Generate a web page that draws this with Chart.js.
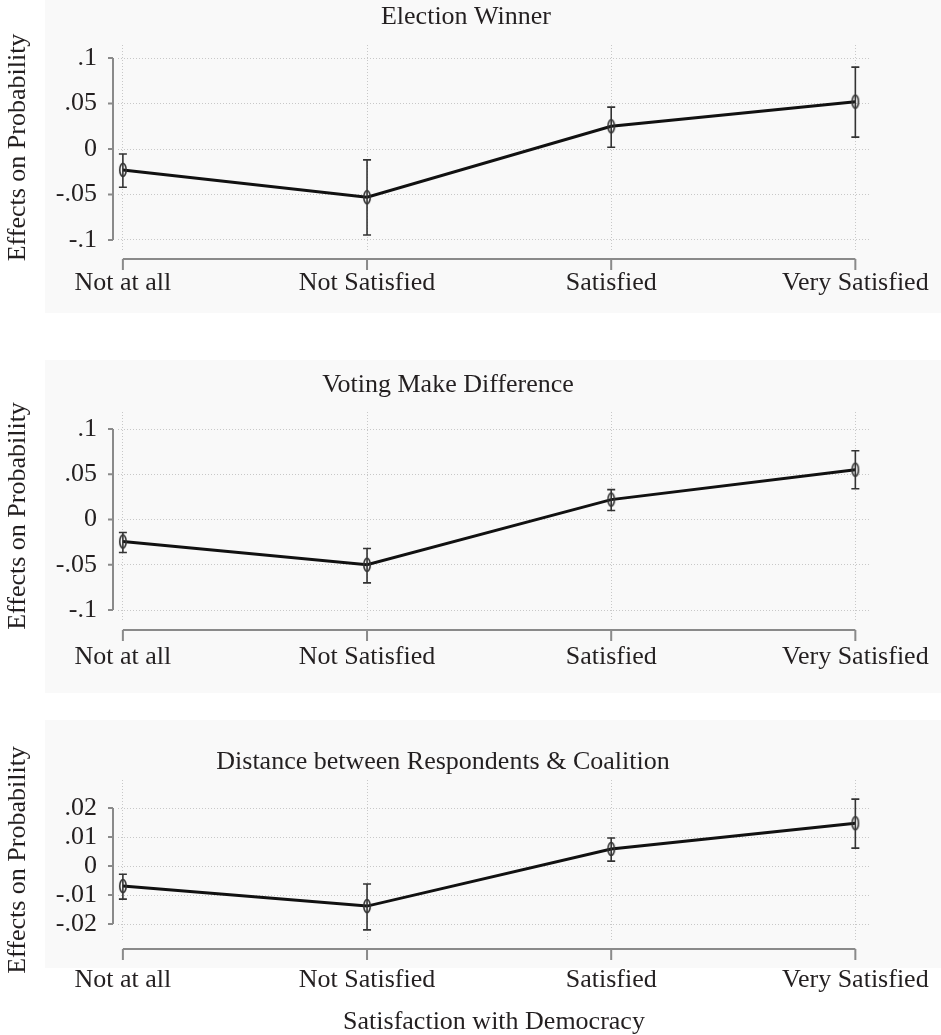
<!DOCTYPE html>
<html>
<head>
<meta charset="utf-8">
<script src="https://cdn.jsdelivr.net/npm/chart.js@4.4.1/dist/chart.umd.min.js"></script>
<style>
  body { margin: 0; background: #fff; }
  #wrap { position: relative; width: 941px; height: 1035px; overflow: hidden; }
  .shade { position: absolute; left: 45px; width: 896px; background: #f9f9f9; }
  canvas { position: absolute; left: 0; }
</style>
</head>
<body>
<div id="wrap">
  <div class="shade" style="top:0;height:313px"></div>
  <div class="shade" style="top:360px;height:333px"></div>
  <div class="shade" style="top:720px;height:248px"></div>
  <canvas id="c1" width="941" height="310" style="top:0"></canvas>
  <canvas id="c2" width="941" height="330" style="top:360px"></canvas>
  <canvas id="c3" width="941" height="315" style="top:720px"></canvas>
</div>
<script>
// satisfaction categories (x axis)
const categories = ["Not at all", "Not Satisfied", "Satisfied", "Very Satisfied"];

// Election Winner
const winnerEst = [-0.023, -0.053, 0.025, 0.052];
const winnerLo = [-0.042, -0.0945, 0.002, 0.013];
const winnerHi = [-0.0055, -0.012, 0.046, 0.090];

// Voting Make Difference
const votingEst = [-0.0243, -0.050, 0.022, 0.055];
const votingLo = [-0.0365, -0.070, 0.010, 0.034];
const votingHi = [-0.0144, -0.032, 0.033, 0.076];

// Distance between Respondents & Coalition
const distEst = [-0.0069, -0.0138, 0.0059, 0.0148];
const distLo = [-0.0114, -0.0220, 0.0017, 0.0062];
const distHi = [-0.0028, -0.0062, 0.0097, 0.0231];

// y tick values and labels
const probTicks = [-0.1, -0.05, 0, 0.05, 0.1];
const probLabels = ["-.1", "-.05", "0", ".05", ".1"];
const distTicks = [-0.02, -0.01, 0, 0.01, 0.02];
const distLabels = ["-.02", "-.01", "0", ".01", ".02"];

const serif = "'Liberation Serif', 'Times New Roman', serif";
const ink = "#231f20";
Chart.defaults.font.family = serif;
Chart.defaults.font.size = 26;
Chart.defaults.color = ink;

// hollow tall "O" marker
const marker = document.createElement("canvas");
marker.width = 10;
marker.height = 16;
const mctx = marker.getContext("2d");
mctx.strokeStyle = "#333";
mctx.lineWidth = 1.6;
mctx.beginPath();
mctx.ellipse(5, 8, 3.2, 6.5, 0, 0, Math.PI * 2);
mctx.stroke();

// confidence interval whiskers
const errorBars = {
  id: "errorBars",
  afterDatasetsDraw(chart, args, opts) {
    const { ctx, scales: { x, y } } = chart;
    ctx.save();
    ctx.strokeStyle = "#333";
    ctx.lineWidth = 1.6;
    opts.lo.forEach((lo, i) => {
      const px = x.getPixelForValue(i);
      const y1 = y.getPixelForValue(lo);
      const y2 = y.getPixelForValue(opts.hi[i]);
      ctx.beginPath();
      ctx.moveTo(px, y1); ctx.lineTo(px, y2);
      ctx.moveTo(px - 4, y1); ctx.lineTo(px + 4, y1);
      ctx.moveTo(px - 4, y2); ctx.lineTo(px + 4, y2);
      ctx.stroke();
    });
    ctx.restore();
  }
};

// Stata-like detached axis lines
const stataAxes = {
  id: "stataAxes",
  afterDraw(chart, args, opts) {
    const { ctx, chartArea, scales: { x, y } } = chart;
    ctx.save();
    ctx.strokeStyle = "#8a8a8a";
    ctx.lineWidth = 2;
    const ax = chartArea.left - 5;
    const yTop = y.getPixelForValue(opts.yTicks[opts.yTicks.length - 1]);
    const yBot = y.getPixelForValue(opts.yTicks[0]);
    ctx.beginPath();
    ctx.moveTo(ax, yTop); ctx.lineTo(ax, yBot);
    opts.yTicks.forEach(v => {
      const py = y.getPixelForValue(v);
      ctx.moveTo(ax - 5, py); ctx.lineTo(ax, py);
    });
    const ay = chartArea.bottom + opts.gap;
    ctx.moveTo(x.getPixelForValue(0), ay);
    ctx.lineTo(x.getPixelForValue(categories.length - 1), ay);
    categories.forEach((c, i) => {
      const px = x.getPixelForValue(i);
      ctx.moveTo(px, ay); ctx.lineTo(px, ay + 11);
    });
    ctx.stroke();
    ctx.restore();
  }
};

// panel heading
const panelTitle = {
  id: "panelTitle",
  afterDraw(chart, args, opts) {
    const ctx = chart.ctx;
    ctx.save();
    ctx.font = "26px " + serif;
    ctx.fillStyle = ink;
    ctx.textAlign = "center";
    ctx.textBaseline = "middle";
    ctx.fillText(opts.text, opts.x, opts.y);
    ctx.restore();
  }
};

function makePanel(id, p) {
  const ctx = document.getElementById(id).getContext("2d");
  return new Chart(ctx, {
    type: "line",
    data: {
      datasets: [{
        data: p.est.map((v, i) => ({ x: i, y: v })),
        borderColor: "#111",
        borderWidth: 3,
        pointStyle: marker,
        pointRadius: 6,
        pointHoverRadius: 6,
        tension: 0,
        fill: false
      }]
    },
    options: {
      responsive: false,
      animation: false,
      events: [],
      layout: { padding: { top: p.top, right: 71, bottom: 0, left: 0 } },
      plugins: {
        legend: { display: false },
        tooltip: { enabled: false },
        errorBars: { lo: p.lo, hi: p.hi },
        stataAxes: { yTicks: p.ticks, gap: p.gap },
        panelTitle: { text: p.title, x: p.titleX, y: p.titleY }
      },
      scales: {
        x: {
          type: "linear",
          min: -0.02,
          max: 3.06,
          afterBuildTicks: s => { s.ticks = categories.map((c, i) => ({ value: i })); },
          afterFit: s => { s.height = p.xh; s.paddingLeft = 0; s.paddingRight = 0; },
          border: { display: false, dash: [1, 2] },
          grid: { color: "#c8c8c8", lineWidth: 1, drawTicks: false },
          ticks: {
            padding: p.xpad,
            maxRotation: 0,
            autoSkip: false,
            font: { lineHeight: 1 },
            callback: v => categories[v]
          },
          title: {
            display: !!p.xTitle,
            text: p.xTitle || "",
            padding: { top: 0, bottom: 0 },
            font: { lineHeight: 1 }
          }
        },
        y: {
          min: p.min,
          max: p.max,
          afterBuildTicks: s => { s.ticks = p.ticks.map(v => ({ value: v })); },
          afterFit: s => { s.width = 118; s.paddingTop = 0; s.paddingBottom = 0; },
          border: { display: false, dash: [1, 2] },
          grid: { color: "#c8c8c8", lineWidth: 1, drawTicks: false },
          ticks: {
            padding: 21,
            font: { lineHeight: 1 },
            callback: (v, i) => p.labels[i]
          },
          title: {
            display: true,
            text: "Effects on Probability",
            padding: { top: 5, bottom: 0 },
            font: { lineHeight: 1 }
          }
        }
      }
    },
    plugins: [errorBars, stataAxes, panelTitle]
  });
}

makePanel("c1", {
  title: "Election Winner", titleX: 466, titleY: 17,
  est: winnerEst, lo: winnerLo, hi: winnerHi,
  ticks: probTicks, labels: probLabels,
  min: -0.111, max: 0.1143,
  top: 45, xh: 60, xpad: 20, gap: 9
});

makePanel("c2", {
  title: "Voting Make Difference", titleX: 448, titleY: 25,
  est: votingEst, lo: votingLo, hi: votingHi,
  ticks: probTicks, labels: probLabels,
  min: -0.111, max: 0.1188,
  top: 52, xh: 70, xpad: 24, gap: 10
});

makePanel("c3", {
  title: "Distance between Respondents & Coalition", titleX: 443, titleY: 42,
  est: distEst, lo: distLo, hi: distHi,
  ticks: distTicks, labels: distLabels,
  min: -0.0255, max: 0.0297,
  top: 60, xh: 95, xpad: 27, gap: 9,
  xTitle: "Satisfaction with Democracy"
});
</script>
</body>
</html>
